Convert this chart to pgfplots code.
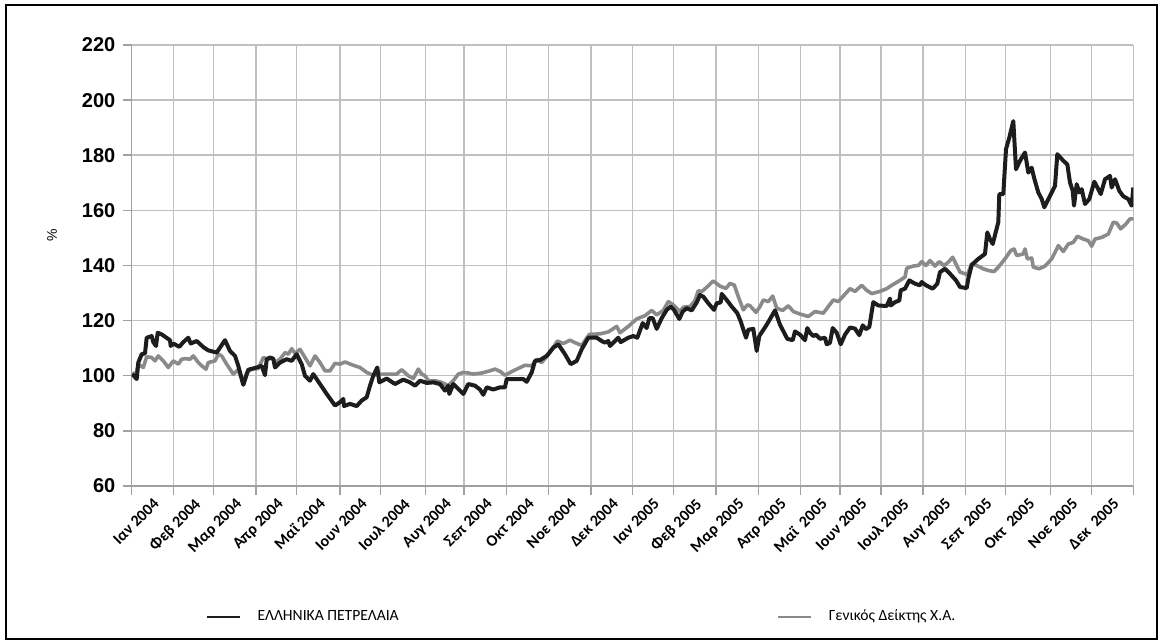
\documentclass[border=0pt]{standalone}
\usepackage{fontspec}
\setmainfont{Carlito}
\newfontfamily\libsans{Liberation Sans}
\usepackage{pgfplots}
\pgfplotsset{compat=1.18}
\definecolor{ser1}{RGB}{30,28,29}
\definecolor{ser2}{RGB}{138,138,138}
\definecolor{gridc}{RGB}{192,192,192}
\definecolor{axc}{RGB}{160,160,160}
\begin{document}
\begin{tikzpicture}
\useasboundingbox (0,0) rectangle (581.5pt,321.5pt);
\draw[line width=1.3pt, black] (3pt,2pt) rectangle (578.5pt,319pt);
\begin{axis}[
 at={(65.85pt,78.5pt)}, anchor=south west,
 width=500.8pt, height=220.5pt, scale only axis,
 xmin=131.7, xmax=1133.3, ymin=60, ymax=220,
 ytick={60,80,...,220},
 xtick={131.7,173.3,213.7,256,296.7,340,380.7,425.3,464,506.7,548.3,591,632.3,673.3,716,758.7,800.7,840,881,923,965.3,1005.7,1050.7,1091.7,1133.3},
 xticklabels={},
 extra x ticks={152.5,193.5,234.85,276.35,318.35,360.35,403,444.65,485.35,527.5,569.65,611.65,652.8,694.65,737.35,779.7,820.35,860.5,902,944.15,985.5,1028.2,1071.2,1112.5},
 extra x tick labels={Ιαν 2004,Φεβ 2004,Μαρ 2004,Απρ 2004,Μαϊ 2004,Ιουν 2004,Ιουλ 2004,Αυγ 2004,Σεπ 2004,Οκτ 2004,Νοε 2004,Δεκ 2004,Ιαν 2005,Φεβ 2005,Μαρ 2005,Απρ 2005,Μαϊ\ \ 2005,Ιουν 2005,Ιουλ 2005,Αυγ 2005,Σεπ\ \ 2005,Οκτ\ \ 2005,Νοε 2005,Δεκ\ \ 2005},
 extra x tick style={grid=none, major tick length=0pt},
 grid=major, grid style={gridc, line width=0.75pt},
 axis x line*=bottom, axis y line*=left,
 axis line style={axc, line width=0.75pt},
 tick style={axc, line width=0.75pt},
 tick align=outside, major tick length=4.5pt,
 /pgf/number format/assume math mode=true,
 yticklabel style={font=\libsans\bfseries\fontsize{10}{12}\selectfont, inner sep=0pt, xshift=-3.5pt},
 xticklabel style={font=\bfseries\fontsize{8}{9.5}\selectfont, yshift=-5.5pt, rotate=45, anchor=north east, inner sep=0pt},
 ylabel={\%},
 ylabel style={at={(axis description cs:-0.0796,0.569)}, anchor=center, rotate=0, font=\libsans\fontsize{7}{8}\selectfont},
 legend columns=2,
 legend style={at={(0.0732,-0.29705)}, anchor=west, draw=none, fill=none, inner sep=0pt,
   font=\fontsize{7.8}{9}\selectfont, cells={anchor=west}, nodes={inner sep=0pt},
   /tikz/every odd column/.append style={column sep=8.5pt},
   /tikz/every even column/.append style={column sep=189pt}},
 legend image code/.code={\draw[#1, line width=1.1pt] (0pt,0pt) -- (16.5pt,0pt);},
]
\addplot[ser2, line width=1.8pt, line join=round, forget plot] coordinates {
(132.3,101.0)(136,100.6)(138.3,104.2)(143.3,103.0)(146.7,106.9)(151.7,106.6)(155,105.4)(158.3,107.2)(163.3,105.4)(168.3,103.0)(173.3,105.4)(178.3,104.2)(181.7,106.0)(185,106.2)(190,106.0)(193.3,107.2)(198.3,104.8)(201.7,103.6)(206,102.4)(208.3,104.8)(215,105.4)(218.3,107.8)(221.7,107.2)(226.7,104.2)(233.3,100.6)(238.3,102.2)(243.3,97.0)(246.7,101.2)(251.7,102.4)(258.3,102.6)(263.3,106.6)(268.3,106.0)(271.7,106.6)(275,104.8)(280,106.0)(285,108.4)(288.3,107.8)(291.7,109.8)(295,108.1)(300,109.6)(305,106.6)(310,103.6)(315,107.2)(320,104.8)(325,101.8)(330,101.8)(335,104.5)(340,104.2)(345,105.0)(353.3,103.8)(360,103.0)(366.7,101.2)(373.3,100.2)(380,100.6)(386.7,100.6)(396.7,100.6)(401.7,102.2)(408.3,100.0)(413.3,99.0)(418.3,102.4)(421.7,100.6)(425,100.0)(428.3,98.2)(435,98.2)(441.7,97.6)(448.3,96.4)(453.3,98.2)(458.3,100.6)(463.3,101.2)(468.3,101.0)(473.3,100.6)(481.7,101.0)(490,101.8)(495,102.4)(500,101.6)(505,100.2)(513.3,101.8)(525,103.8)(531.7,103.6)(536.7,106.0)(541.7,104.8)(550,108.4)(557.3,112.6)(563.3,111.7)(570,112.9)(575,112.0)(581.7,111.0)(589.3,115.0)(600,115.2)(608.3,115.9)(616.7,117.9)(620,115.6)(628.3,117.9)(636.7,120.6)(645,121.8)(651.7,123.7)(656.7,122.1)(663.3,123.7)(668.3,126.9)(673.3,125.7)(680,123.3)(683.3,124.9)(690,125.1)(695,127.3)(698.3,130.9)(701.7,130.5)(707.3,132.3)(713.3,134.4)(720,132.5)(726,131.7)(730,133.5)(734.3,132.9)(738.3,128.7)(743.3,123.9)(747.3,125.7)(750,125.4)(756,123.0)(760,125.1)(763.3,127.5)(768.3,126.9)(772.7,128.9)(776.7,124.5)(782.7,123.7)(788.3,125.4)(793.3,123.3)(800,122.4)(808.3,121.5)(815,123.3)(823.3,122.7)(833.3,127.5)(838.3,126.9)(850,131.6)(855,130.6)(861.7,132.8)(866.7,131.0)(871.7,129.8)(880,130.6)(886.7,131.6)(891.7,132.8)(900,134.6)(905,135.8)(906.7,139.0)(913.3,139.8)(918.3,140.0)(921.7,141.4)(926,140.0)(930,141.8)(935,139.8)(939.3,141.4)(944,140.0)(948.3,141.2)(952.7,143.0)(956.7,140.0)(960,137.6)(965,137.0)(967.3,136.6)(971.7,140.6)(976.7,140.0)(983.3,138.8)(988.3,138.2)(994,137.8)(998.3,139.4)(1005,142.4)(1010.7,145.4)(1014,146.0)(1016.7,143.6)(1023.3,144.2)(1025,146.0)(1027.3,142.4)(1031.7,142.7)(1033.3,139.4)(1039.3,138.8)(1045,139.8)(1051.7,142.4)(1055,144.8)(1058.3,147.2)(1063.3,145.1)(1068.3,147.8)(1073.3,148.4)(1077.3,150.6)(1083.3,149.6)(1088.3,149.0)(1091.7,147.0)(1095,149.6)(1101.7,150.2)(1108.3,151.4)(1113.3,155.7)(1116.7,155.4)(1120.7,153.3)(1126,155.1)(1130,156.9)(1133.3,156.9)
};
\addplot[ser1, line width=2pt, line join=round] coordinates {
(132.3,100.6)(136.7,98.8)(138.3,104.8)(141.7,107.8)(145,108.1)(146.7,113.8)(151.7,114.4)(153.3,112.2)(156,110.8)(157.7,115.6)(161.7,115.0)(170,112.9)(170.7,110.8)(173.3,111.7)(179.3,110.5)(183.3,112.2)(188.3,113.8)(190.7,111.7)(196.7,112.6)(203.3,110.4)(208.3,109.2)(216.7,108.4)(220,110.2)(225,112.9)(230,109.0)(235,107.2)(238.3,103.6)(243.3,96.7)(248.3,102.2)(256.7,103.0)(261.7,103.6)(265,100.2)(266.7,106.0)(270,106.6)(273.3,106.2)(275,103.0)(280,104.8)(286.7,106.0)(291.7,105.4)(296.7,107.8)(301.7,104.2)(305,100.0)(310,98.2)(313.3,100.6)(320,97.0)(326.7,93.4)(335,89.2)(340,90.4)(343.3,91.6)(344,89.0)(350,89.8)(356.7,89.0)(361.7,91.0)(366.7,92.2)(370,96.4)(373.3,100.0)(377.3,103.0)(379.3,97.6)(386.7,99.0)(395,97.0)(403.3,98.6)(410,97.6)(415,96.4)(420,98.2)(426.7,97.4)(433.3,97.6)(440,97.0)(445,94.6)(448.3,96.4)(449.3,93.4)(453.3,97.0)(456.7,95.8)(463.3,93.4)(468.3,97.0)(475,96.4)(480,95.0)(483.3,93.1)(486.7,95.8)(493.3,95.0)(500,95.8)(505,95.8)(506.7,98.8)(516.7,98.8)(523.3,98.8)(526.7,97.8)(531.7,101.2)(535,105.4)(540,105.7)(546.7,107.2)(553.3,110.2)(558.3,111.4)(565,107.8)(570.7,104.2)(576.7,105.4)(581.7,109.6)(588.3,113.8)(596.7,113.8)(601.7,112.6)(605,112.0)(608.3,112.6)(610,110.8)(615,112.6)(618.3,113.8)(620.7,112.2)(628.3,113.8)(633.3,114.4)(637.3,113.8)(642.7,119.1)(646.7,117.3)(649.3,120.9)(652.7,120.9)(656.7,117.0)(661.7,120.9)(666.7,123.9)(670.7,125.1)(674,123.9)(679.3,120.6)(682.7,123.3)(686.7,124.5)(691.7,123.7)(696.7,126.6)(700,129.3)(703.3,128.7)(708.3,126.3)(714,123.9)(716.7,126.3)(720.7,126.6)(721.7,129.7)(726.7,127.5)(731.7,125.1)(737.3,122.7)(740.7,119.7)(746,113.8)(748.3,116.7)(753.3,117.0)(756.7,109.0)(759.3,114.4)(766.7,118.5)(775,123.7)(780,118.5)(787.3,113.4)(792.7,112.9)(795,116.1)(800,114.9)(805,112.9)(807.3,117.3)(810,115.6)(813.3,114.4)(816,114.9)(820,113.4)(825,113.8)(826.7,111.4)(830,112.0)(832.7,117.3)(836.7,115.6)(840.7,111.4)(845,114.9)(850,117.5)(855,117.1)(859.3,114.7)(862.7,118.3)(866,116.9)(869.3,117.7)(873.3,126.7)(878.3,125.5)(886.7,125.3)(890,128.0)(890.7,125.5)(895,126.7)(899.3,127.3)(900.7,131.0)(905,131.6)(909.3,134.6)(915,133.4)(920,132.8)(921.7,134.0)(926,132.8)(932.7,131.6)(937.3,133.4)(940,137.6)(945,138.8)(950,137.0)(956,134.6)(960,132.2)(966.7,131.8)(968.3,135.2)(971.7,140.2)(978.3,142.4)(985,144.2)(987.3,152.0)(990,149.6)(992.7,147.8)(998.3,155.7)(999.3,165.9)(1003.3,165.9)(1006,182.2)(1009.3,186.4)(1013.3,192.4)(1016,174.9)(1020,178.0)(1025,181.0)(1028.3,173.7)(1031.7,175.5)(1034,171.9)(1038.3,166.5)(1041.7,164.1)(1044.3,161.1)(1050,165.3)(1055,168.9)(1057.3,180.4)(1063.3,178.0)(1067.3,176.7)(1070,170.1)(1072.7,167.1)(1074,161.7)(1076.7,169.5)(1079.3,166.5)(1081.7,167.7)(1085,162.3)(1089.3,164.1)(1094.3,170.4)(1098.3,167.7)(1100.7,165.9)(1105,171.3)(1110,172.5)(1111.7,168.3)(1115,171.3)(1119.3,167.1)(1123.3,165.1)(1128.3,164.1)(1131.7,161.7)(1133.3,168.3)
};
\addlegendentry{ΕΛΛΗΝΙΚΑ ΠΕΤΡΕΛΑΙΑ}
\addlegendimage{ser2, line width=1.5pt}
\addlegendentry{Γενικός Δείκτης Χ.Α.}
\end{axis}
\end{tikzpicture}
\end{document}
